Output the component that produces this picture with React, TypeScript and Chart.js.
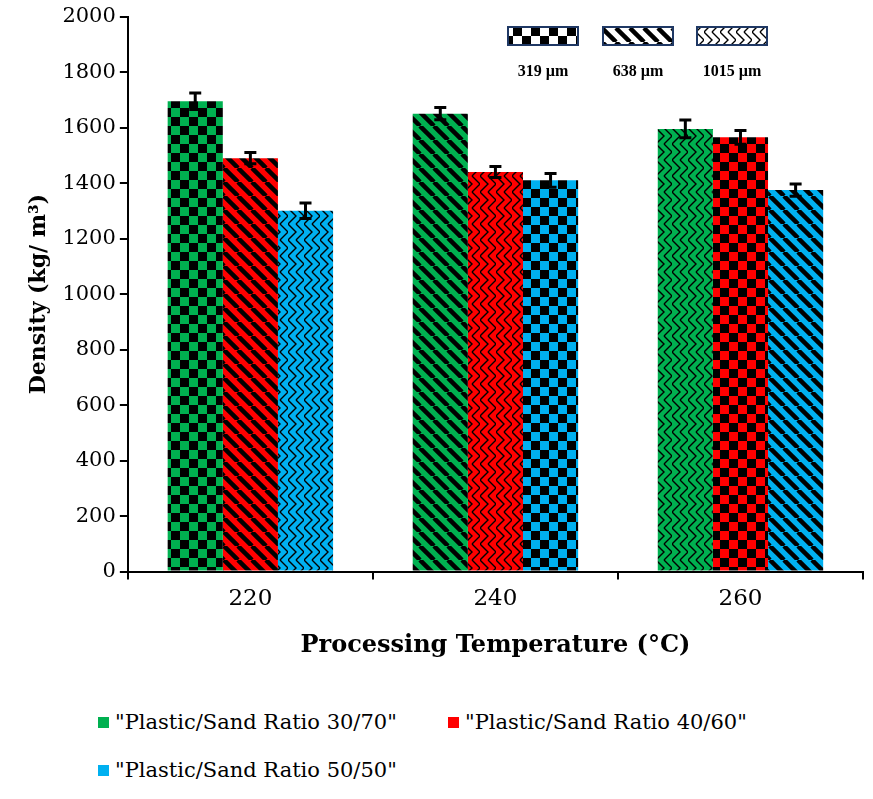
import React, { useEffect, useRef } from "react";
import { Chart, registerables } from "chart.js";
Chart.register(...registerables);

const categories = ["220", "240", "260"];
const series = ["\"Plastic/Sand Ratio 30/70\"", "\"Plastic/Sand Ratio 40/60\"", "\"Plastic/Sand Ratio 50/50\""];
const colors = ["#00b050", "#ff0000", "#00b0f0"];
const ratio3070 = [1695, 1650, 1595];
const ratio4060 = [1490, 1440, 1565];
const ratio5050 = [1300, 1410, 1375];
const err3070 = [30, 22, 32];
const err4060 = [20, 20, 25];
const err5050 = [28, 25, 22];
// pattern per bar: 0 checker (319 µm), 1 diagonal (638 µm), 2 zigzag (1015 µm)
const patterns3070 = [0, 1, 2];
const patterns4060 = [1, 2, 0];
const patterns5050 = [2, 0, 1];
const sizeLabels = ["319 µm", "638 µm", "1015 µm"];

function makePattern(ctx: CanvasRenderingContext2D, color: string, kind: number): CanvasPattern {
  const c = document.createElement("canvas");
  const s = kind === 0 ? 18 : kind === 1 ? 14 : 16;
  c.width = s; c.height = s;
  const g = c.getContext("2d")!;
  g.fillStyle = color; g.fillRect(0, 0, s, s);
  g.fillStyle = "#000"; g.strokeStyle = "#000";
  if (kind === 0) {
    g.fillRect(0, 0, 9, 9); g.fillRect(9, 9, 9, 9);
  } else if (kind === 1) {
    g.lineWidth = 4.5;
    for (let k = -1; k <= 1; k++) {
      g.beginPath(); g.moveTo(k * s, 0); g.lineTo(k * s + s, s); g.stroke();
    }
  } else {
    g.lineWidth = 1.4;
    g.beginPath();
    g.moveTo(0, 0); g.lineTo(8, 8); g.lineTo(0, 16);
    g.moveTo(8, 0); g.lineTo(16, 8); g.lineTo(8, 16);
    g.stroke();
  }
  return ctx.createPattern(c, "repeat")!;
}

export default function App() {
  const ref = useRef<HTMLCanvasElement>(null);
  useEffect(() => {
    const ctx = ref.current!.getContext("2d")!;
    const vals = [ratio3070, ratio4060, ratio5050];
    const errs = [err3070, err4060, err5050];
    const pats = [patterns3070, patterns4060, patterns5050];
    const errPlugin = {
      id: "err",
      afterDatasetsDraw(chart: any) {
        const c = chart.ctx; const y = chart.scales.y;
        c.save(); c.strokeStyle = "#000"; c.lineWidth = 3;
        chart.data.datasets.forEach((ds: any, i: number) => {
          chart.getDatasetMeta(i).data.forEach((bar: any, j: number) => {
            const v = vals[i][j], e = errs[i][j];
            const t = y.getPixelForValue(v + e), b = y.getPixelForValue(v - e);
            c.beginPath(); c.moveTo(bar.x, t); c.lineTo(bar.x, b);
            c.moveTo(bar.x - 6, t); c.lineTo(bar.x + 6, t);
            c.moveTo(bar.x - 6, b); c.lineTo(bar.x + 6, b); c.stroke();
          });
        });
        const xs = [508, 603, 697];
        c.font = "bold 16px 'Liberation Serif'"; c.textAlign = "center";
        xs.forEach((x, k) => {
          c.fillStyle = makePattern(c, "#fff", k);
          c.fillRect(x, 27, 70, 18);
          c.strokeStyle = "#1f3864"; c.lineWidth = 2; c.strokeRect(x, 27, 70, 18);
          c.fillStyle = "#000"; c.fillText(sizeLabels[k], x + 35, 76);
        });
        c.restore();
      },
    };
    const chart = new Chart(ctx, {
      type: "bar",
      data: {
        labels: categories,
        datasets: series.map((s, i) => ({
          label: s,
          data: vals[i],
          backgroundColor: pats[i].map((p) => makePattern(ctx, colors[i], p)),
          borderWidth: 0,
          barPercentage: 1,
          categoryPercentage: 0.675,
        })),
      },
      options: {
        animation: false,
        responsive: false,
        layout: { padding: { left: 22, right: 10, top: 10, bottom: 0 } },
        plugins: { legend: { display: false }, tooltip: { enabled: false } },
        scales: {
          x: {
            grid: { display: true, drawOnChartArea: false, offset: true, color: "#000", lineWidth: 2, tickLength: 8 },
            border: { color: "#000", width: 2 },
            ticks: { color: "#000", font: { family: "'DejaVu Serif'", size: 23 }, padding: 6 },
            title: { display: true, text: "Processing Temperature (°C)", color: "#000", font: { family: "'DejaVu Serif'", size: 24, weight: "bold" }, padding: { top: 12 } },
          },
          y: {
            min: 0, max: 2000,
            grid: { display: true, drawOnChartArea: false, color: "#000", lineWidth: 2, tickLength: 8 },
            border: { color: "#000", width: 2 },
            ticks: { stepSize: 200, color: "#000", font: { family: "'DejaVu Serif'", size: 21 }, padding: 4, callback: (v: any) => String(v) },
            title: { display: true, text: "Density (kg/ m³)", color: "#000", font: { family: "'DejaVu Serif'", size: 22, weight: "bold" }, padding: { bottom: 6 } },
          },
        },
      },
      plugins: [errPlugin],
    });
    return () => chart.destroy();
  }, []);
  const item = (i: number, left: number, top: number) => (
    <div style={{ position: "absolute", left, top, display: "flex", alignItems: "center", fontFamily: "'DejaVu Serif'", fontSize: 21, whiteSpace: "nowrap" }}>
      <span style={{ width: 11, height: 11, background: colors[i], marginRight: 6, display: "inline-block" }} />
      {series[i]}
    </div>
  );
  return (
    <div style={{ position: "absolute", left: 0, top: 0, width: 873, height: 799, background: "#fff" }}>
      <canvas ref={ref} width={873} height={664} style={{ position: "absolute", left: 0, top: 0 }} />
      {item(0, 98, 710)}
      {item(1, 448, 710)}
      {item(2, 98, 758)}
    </div>
  );
}
